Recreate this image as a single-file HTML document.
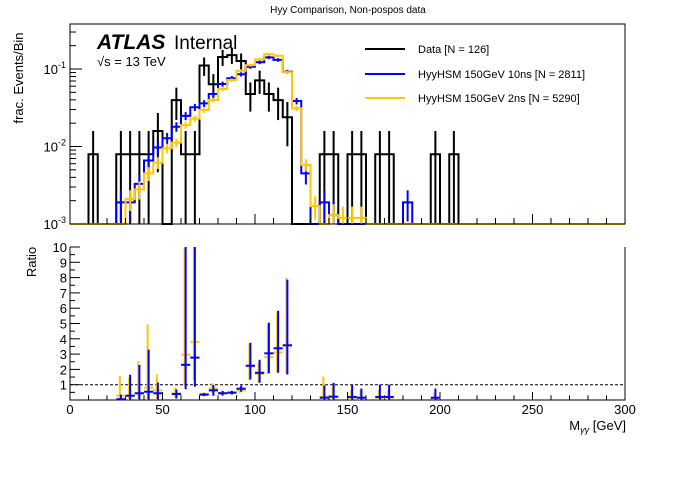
<!DOCTYPE html>
<html><head><meta charset="utf-8"><style>
body{margin:0;background:#fff;}
svg text{font-family:"Liberation Sans",sans-serif;}
</style></head><body>
<svg id="c" width="696" height="472" xmlns="http://www.w3.org/2000/svg">
<rect width="696" height="472" fill="#fff"/>
<text x="348" y="13" font-size="10" text-anchor="middle">Hyy Comparison, Non-pospos data</text>
<g id="topPanel"></g>
<g id="botPanel"></g>
<text x="97" y="49" font-size="21" font-weight="bold" font-style="italic">ATLAS</text>
<text x="174" y="49" font-size="19">Internal</text>
<text x="97" y="66" font-size="13">√s = 13 TeV</text>
<g>
 <line x1="365" y1="49" x2="405" y2="49" stroke="#000" stroke-width="2"/>
 <text x="418" y="53" font-size="11">Data [N = 126]</text>
 <line x1="365" y1="74" x2="405" y2="74" stroke="#0000ff" stroke-width="2"/>
 <text x="418" y="78" font-size="11">HyyHSM 150GeV 10ns [N = 2811]</text>
 <line x1="365" y1="98" x2="405" y2="98" stroke="#ffc800" stroke-width="2"/>
 <text x="418" y="102" font-size="11">HyyHSM 150GeV 2ns [N = 5290]</text>
</g>
<text transform="translate(23,78) rotate(-90)" font-size="13" text-anchor="middle">frac. Events/Bin</text>
<text transform="translate(36,262) rotate(-90)" font-size="13" text-anchor="middle">Ratio</text>
<text x="626" y="430" font-size="13" text-anchor="end">M<tspan font-size="9" dy="3" font-style="italic">γγ</tspan><tspan dy="-3"> [GeV]</tspan></text>
</svg>
<script>
const dataBins=[10,25,30,35,40,45,55,60,65,70,75,80,85,90,95,100,105,110,115,135,140,150,155,165,170,195,205];
const dataCounts=[1,1,1,1,1,2,5,1,1,14,8,18,19,16,6,9,6,5,3,1,1,1,1,1,1,1,1];
const dataTotal=126;
const mcBins=[20,25,30,35,40,45,50,55,60,65,70,75,80,85,90,95,100,105,110,115,120,125,130,135,140,145,150,155,180];
const blueVals=[0,0.0019,0.0019,0.0033,0.0066,0.0097,0.0128,0.018,0.0248,0.0321,0.036,0.0476,0.064,0.0759,0.0855,0.107,0.122,0.141,0.131,0.092,0.0386,0.0045,0.0008,0.0019,0.0013,0,0,0,0.0019];
const yellowVals=[0,0,0.0021,0.0028,0.0045,0.0062,0.0095,0.0112,0.0189,0.0229,0.0296,0.0398,0.0552,0.072,0.095,0.112,0.133,0.155,0.148,0.0907,0.031,0.0058,0.0017,0.0008,0.0013,0.0012,0.0012,0.0012,0];
const blueN=2811, yellowN=5290;
const ratioBins=[25,30,35,40,45,55,60,65,70,75,80,85,90,95,100,105,110,115,135,140,150,155,165,170,195];
const blueRatio=[0.05,0.28,0.44,0.54,0.44,0.39,2.3,2.77,0.35,0.63,0.44,0.48,0.74,2.24,1.78,3.05,3.38,3.57,0.15,0.22,0.2,0.15,0.2,0.2,0.15];
const blueDn=[0.05,0.28,0.44,0.54,0.44,0.3,1.6,1.9,0.1,0.35,0.15,0.12,0.2,0.9,0.65,1.3,1.6,1.9,0.15,0.22,0.2,0.15,0.2,0.2,0.15];
const blueUp=[0.3,1.37,1.85,2.75,0.7,0.3,8,8,0.1,0.35,0.15,0.12,0.2,1.5,0.85,2.0,2.45,4.3,0.8,0.9,0.8,0.6,0.8,0.8,0.6];
const yelRatio=[0.28,0.28,0.44,0.8,0.63,0.44,2.96,3.8,0.4,0.76,0.44,0.48,0.63,2.2,1.7,2.8,3.1,3.6,0.22,0.2,0.15,0.15,0.15,0.15,0.1];
const yelDn=[0.28,0.28,0.44,0.8,0.63,0.3,2,2.5,0.1,0.3,0.12,0.1,0.15,0.9,0.6,1.1,1.3,1.9,0.22,0.2,0.15,0.15,0.15,0.15,0.1];
const yelUp=[1.3,1.2,2.1,4.15,1.05,0.4,7,6.2,0.1,0.35,0.12,0.1,0.15,1.5,0.8,2.2,2.6,4.4,1.3,0.7,0.5,0.5,0.5,0.5,0.4];
const xTicks=[0,50,100,150,200,250,300];
const ratioTicks=[1,2,3,4,5,6,7,8,9,10];

const NS="http://www.w3.org/2000/svg";
const X0=70,X1=625,T0=24,T1=224,B0=247,B1=400;
const sx=v=>X0+(v/300)*(X1-X0);
const sy=v=>{if(v<=0.001)return T1;const y=T1-(Math.log10(v)+3)*77.5;return Math.max(T0,y);};
const ry=v=>B1-Math.min(10,Math.max(0,v))*(B1-B0)/10;
function el(parent,tag,attrs,name){const e=document.createElementNS(NS,tag);for(const k in attrs)e.setAttribute(k,attrs[k]);


parent.appendChild(e);return e;}
const topG=document.getElementById('topPanel'),botG=document.getElementById('botPanel');

function stepPath(bins,vals,scale){
  let d=`M${X0},${T1}`;
  for(let b=0;b<300;b+=5){const i=bins.indexOf(b);const v=i>=0?vals[i]*scale:0;const y=sy(v);d+=` L${sx(b)},${y} L${sx(b+5)},${y}`;}
  return d+` L${X1},${T1}`;
}
el(topG,'path',{d:stepPath(dataBins,dataCounts,1/dataTotal),fill:'none',stroke:'#000','stroke-width':2},'data-histogram');
dataBins.forEach((b,i)=>{const n=dataCounts[i],e=Math.sqrt(n);
  el(topG,'line',{x1:sx(b+2.5),x2:sx(b+2.5),y1:sy((n+e)/dataTotal),y2:sy((n-e)/dataTotal),stroke:'#000','stroke-width':2},'data-error-bar');});
function mc(vals,N,color,name){
  el(topG,'path',{d:stepPath(mcBins,vals,1),fill:'none',stroke:color,'stroke-width':2},name+'-histogram');
  mcBins.forEach((b,i)=>{const v=vals[i];if(v<=0.001)return;const e=Math.sqrt(v/N);
    el(topG,'line',{x1:sx(b+2.5),x2:sx(b+2.5),y1:sy(v+e),y2:sy(v-e),stroke:color,'stroke-width':2},name+'-error-bar');});
}
mc(blueVals,blueN,'#0000ff','hsm-10ns');
mc(yellowVals,yellowN,'#ffc800','hsm-2ns');

el(topG,'rect',{x:X0,y:T0,width:X1-X0,height:T1-T0,fill:'none',stroke:'#000','stroke-width':1},'main-frame');
el(botG,'path',{d:`M${X0},${B0} L${X0},${B1} L${X1},${B1} L${X1},${B0}`,fill:'none',stroke:'#000','stroke-width':1},'ratio-frame');
for(let v=0;v<=300;v+=10){const L=v%50===0?10:6;
  el(topG,'line',{x1:sx(v),x2:sx(v),y1:T1,y2:T1-L,stroke:'#000'},'x-tick');
  el(botG,'line',{x1:sx(v),x2:sx(v),y1:B1,y2:B1-L*0.8,stroke:'#000'},'x-tick');}
xTicks.forEach(v=>{const t=el(botG,'text',{x:sx(v),y:414,'font-size':13,'text-anchor':'middle'},'x-tick-label');t.textContent=v;});
for(let d=-3;d<0;d++){for(let m=1;m<10;m++){const v=m*Math.pow(10,d);const y=sy(v);if(y<=T0)continue;
  el(topG,'line',{x1:X0,x2:X0+(m===1?12:6),y1:y,y2:y,stroke:'#000'},'y-tick');}
  const t=el(topG,'text',{x:X0-4,y:sy(Math.pow(10,d))+5,'font-size':13,'text-anchor':'end'},'y-tick-label');
  t.innerHTML='10<tspan dy="-6" font-size="9">'+d+'</tspan>';}
for(let v=0;v<=10;v+=0.5){el(botG,'line',{x1:X0,x2:X0+(v%1===0?10:5),y1:ry(v),y2:ry(v),stroke:'#000'},'ratio-tick');}
ratioTicks.forEach(v=>{const t=el(botG,'text',{x:X0-3,y:ry(v)+5,'font-size':13,'text-anchor':'end'},'ratio-tick-label');t.textContent=v;});
el(botG,'line',{x1:X0,x2:X1,y1:ry(1),y2:ry(1),stroke:'#000','stroke-dasharray':'3,2'},'ratio-unity-line');
function ratio(vals,dn,up,color,name,off){
  ratioBins.forEach((b,i)=>{const c=sx(b+2.5)+off;
    el(botG,'line',{x1:c,x2:c,y1:ry(vals[i]+up[i]),y2:ry(vals[i]-dn[i]),stroke:color,'stroke-width':2},name+'-ratio-error');
    el(botG,'line',{x1:sx(b),x2:sx(b+5),y1:ry(vals[i]),y2:ry(vals[i]),stroke:color,'stroke-width':2},name+'-ratio-point');});
}
ratio(yelRatio,yelDn,yelUp,'#ffc800','hsm-2ns',-1);
ratio(blueRatio,blueDn,blueUp,'#0000ff','hsm-10ns',0);
</script>
</body></html>
